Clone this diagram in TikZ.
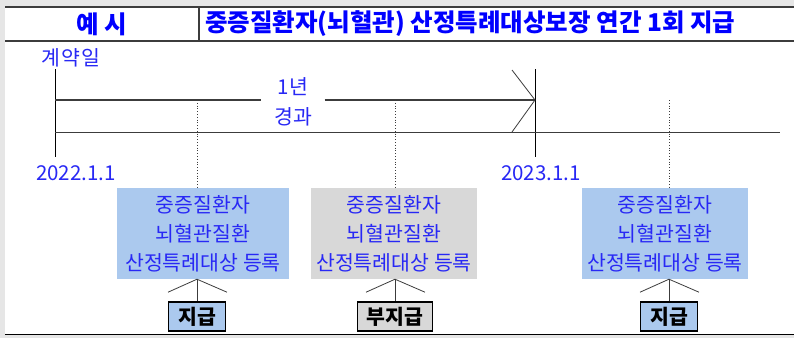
\documentclass[tikz,border=0pt]{standalone}
\usepackage{fontspec}
\setmainfont{Noto Sans CJK KR}
\usetikzlibrary{positioning,calc}
\definecolor{txtblue}{RGB}{40,40,245}
\definecolor{hdblue}{RGB}{0,0,255}
\definecolor{regblue}{RGB}{171,201,238}
\definecolor{reggray}{RGB}{216,216,216}
\definecolor{rulegray}{RGB}{60,60,60}
\definecolor{pagegray}{RGB}{230,230,230}

\begin{document}
\begin{tikzpicture}[x=1pt, y=-1pt,
          every node/.style={inner sep=0pt},
          hdr/.style={font=\fontsize{24.5}{28}\selectfont\bfseries, text=hdblue},
          lbl/.style={font=\fontsize{20.5}{30}\selectfont, text=txtblue},
          regbox/.style={align=center, minimum height=91pt, font=\fontsize{20.5}{29}\selectfont, text=txtblue},
          paybox/.style={draw=black, line width=1.2pt, inner xsep=9.5pt, minimum height=29pt, font=\fontsize{20.5}{22}\selectfont\bfseries},
          axis/.style={rulegray, line width=0.9pt},
          tick/.style={black, line width=1pt},
          guide/.style={rulegray, dotted, line width=0.8pt},
          fork/.style={rulegray, line width=0.8pt}]
        \useasboundingbox (0,0) rectangle (794,338);
        \fill[pagegray] (0,0) rectangle (794,338);
        \fill[white] (5,7) rectangle (794,334);
        \draw[rulegray, line width=1.6pt] (5,7) -- (794,7);
        \draw[rulegray, line width=1.2pt] (5,41) -- (794,41);
        \draw[rulegray, line width=1.2pt] (199,7) -- (199,41);
        \draw[black, line width=1pt] (5,334) -- (794,334);
        \node[hdr] (hdrL) at (102,24) {예 시};
        \node[hdr, anchor=west] (hdrR) at (205,24) {중증질환자(뇌혈관) 산정특례대상보장 연간 1회 지급};
        \coordinate (t0) at (55,100);
        \coordinate (t1) at (535,100);
        \node[lbl] (sign) at (71,58) {\addfontfeature{LetterSpace=6}계약일};
        \node[lbl] (d0) at (76,173) {2022.1.1};
        \node[lbl] (d1) at (541,173) {2023.1.1};
        \node[lbl, align=center, minimum width=63pt] (span) at (293,102) {1년\\경과};
        \draw[tick] (55,69) -- (55,157);
        \draw[tick] (535,69) -- (535,157);
        \draw[axis, line width=2pt] (t0) -- (span.west |- t0);
        \draw[axis, line width=2pt] (span.east |- t0) -- (t1);
        \draw[axis] (55,132) -- (780,132);
        \draw[fork] ([shift={(-23,-30)}]t1) -- (t1) -- ([shift={(-23,32)}]t1);
        \foreach \n/\x/\bx/\w/\c/\t in {1/197/203/172/regblue/지급, 2/395/394/166/reggray/부지급, 3/669/665/166/regblue/지급}{
            \coordinate (g\n) at (\x,100);
            \node[regbox, fill=\c, minimum width=\w] (reg\n) at (\bx,233.5) {중증질환자\\뇌혈관질환\\산정특례대상 등록};
            \node[paybox, fill=\c] (pay\n) at (\x,316.5) {\t};
            \coordinate (j\n) at (g\n |- reg\n.south);
            \draw[guide] (g\n) -- (g\n |- reg\n.north);
            \draw[fork] (j\n) -- (pay\n.north);
            \draw[fork] ([shift={(-29,13)}]j\n) -- (j\n) -- ([shift={(30,13)}]j\n);
        }
      \end{tikzpicture}
\end{document}
